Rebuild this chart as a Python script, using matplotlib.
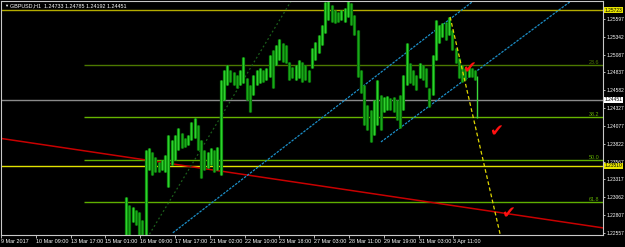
import matplotlib
matplotlib.use('Agg')
import matplotlib.pyplot as plt
import matplotlib.transforms as mtrans
from matplotlib import font_manager

# ---------------- data (GBPUSD H1) ----------------
symbol = 'GBPUSD,H1'
last_ohlc = [1.24733, 1.24785, 1.24192, 1.24451]   # open high low close
last_bar = 438

time_labels = ['9 Mar 2017', '10 Mar 09:00', '13 Mar 17:00', '15 Mar 01:00',
               '16 Mar 09:00', '17 Mar 17:00', '21 Mar 02:00', '22 Mar 10:00',
               '23 Mar 18:00', '27 Mar 03:00', '28 Mar 11:00', '29 Mar 19:00',
               '31 Mar 03:00', '3 Apr 11:00']
label_step = 32          # hourly bars between two time labels

price_ticks = [1.25597, 1.25342, 1.25087, 1.24837, 1.24582, 1.24327, 1.24077,
               1.23822, 1.23567, 1.23317, 1.23062, 1.22807, 1.22557]

# hourly candles grouped in blocks of 3 bars, first block starts at bar 114
blk_start = 114
blk_len = 3
blk_high = [1.2307, 1.2296, 1.2293, 1.2288, 1.2286, 1.2274, 1.2374, 1.2376,
            1.2371, 1.2363, 1.2357, 1.2359, 1.2367, 1.2395, 1.2388, 1.2395,
            1.2405, 1.2398, 1.2391, 1.2395, 1.2413, 1.2419, 1.2409, 1.2388,
            1.2374, 1.2371, 1.2376, 1.2374, 1.2378, 1.2473, 1.2487, 1.2494,
            1.2487, 1.2484, 1.2480, 1.2487, 1.2506, 1.2476, 1.2466, 1.2480,
            1.2487, 1.2490, 1.2487, 1.2490, 1.2509, 1.2516, 1.2523, 1.2531,
            1.2526, 1.2523, 1.2499, 1.2491, 1.2494, 1.2501, 1.2499, 1.2494,
            1.2487, 1.2519, 1.2527, 1.2537, 1.2551, 1.2584, 1.2594, 1.2580,
            1.2572, 1.2570, 1.2572, 1.2575, 1.2594, 1.2582, 1.2565, 1.2544,
            1.2487, 1.2466, 1.2438, 1.2430, 1.2445, 1.2473, 1.2452, 1.2449,
            1.2450, 1.2448, 1.2449, 1.2445, 1.2452, 1.2480, 1.2526, 1.2497,
            1.2487, 1.2480, 1.2497, 1.2494, 1.2490, 1.2462, 1.2509, 1.2558,
            1.2551, 1.2554, 1.2555, 1.2562, 1.2544, 1.2519, 1.2504, 1.2494,
            1.2490, 1.2491, 1.2490, 1.2487]
blk_low = [1.2246, 1.2246, 1.2271, 1.2267, 1.2246, 1.2246, 1.2246, 1.2345,
           1.2338, 1.2342, 1.2342, 1.2345, 1.2342, 1.2321, 1.2352, 1.2359,
           1.2374, 1.2376, 1.2378, 1.2381, 1.2388, 1.2391, 1.2374, 1.2334,
           1.2345, 1.2348, 1.2352, 1.2342, 1.2345, 1.2338, 1.2445, 1.2466,
           1.2470, 1.2466, 1.2462, 1.2466, 1.2469, 1.2445, 1.2428, 1.2452,
           1.2466, 1.2469, 1.2470, 1.2473, 1.2477, 1.2462, 1.2494, 1.2501,
           1.2499, 1.2497, 1.2473, 1.2476, 1.2473, 1.2476, 1.2470, 1.2473,
           1.2470, 1.2490, 1.2501, 1.2511, 1.2523, 1.2540, 1.2558, 1.2555,
           1.2554, 1.2555, 1.2558, 1.2555, 1.2562, 1.2551, 1.2537, 1.2477,
           1.2455, 1.2409, 1.2402, 1.2385, 1.2395, 1.2409, 1.2402, 1.2428,
           1.2430, 1.2430, 1.2428, 1.2416, 1.2405, 1.2430, 1.2466, 1.2469,
           1.2466, 1.2459, 1.2476, 1.2473, 1.2463, 1.2435, 1.2452, 1.2501,
           1.2526, 1.2534, 1.2530, 1.2537, 1.2516, 1.2497, 1.2476, 1.2470,
           1.2473, 1.2477, 1.2477, 1.2473]

fib_names = ['23.6', '38.2', '50.0', '61.8']
fib_prices = [1.24943, 1.24205, 1.23594, 1.22998]
fib_colors = ['#4c7800', '#66b400', '#5fae00', '#5fae00']
fib_from_bar = 76

hline_top = 1.25723
hline_low = 1.23510

# trend lines as (bars, prices)
red_bars, red_prices = [0, 553.6], [1.2390, 1.2263]
chan_a_bars, chan_a_prices = [158, 436], [1.2256, 1.2587]
chan_b_bars, chan_b_prices = [349.4, 525], [1.2385, 1.2586]
dot_bars, dot_prices = [136.5, 266.8], [1.2254, 1.2585]
proj_bars, proj_prices = [413, 459], [1.25625, 1.2254]

check_bars = [430.0, 455.0, 466.0]
check_prices = [1.2490, 1.2400, 1.2283]

# ---------------- fonts ----------------
names = {f.name for f in font_manager.fontManager.ttflist}
narrow = 'Liberation Sans Narrow' if 'Liberation Sans Narrow' in names else 'Liberation Sans'
fam = [narrow, 'DejaVu Sans']
fs = 3.9
fs_y = 3.5

# ---------------- figure ----------------
fig = plt.figure(figsize=(6.25, 2.47), dpi=100, facecolor='black')
ax = fig.add_axes([1 / 625, 12 / 247, 602 / 625, 234 / 247])
ax.set_facecolor('black')
ax.set_xlim(0, 553.6)
ax.set_ylim(1.22529, 1.25851)

# horizontal levels
ax.axhline(hline_top, color='#b4ac00', lw=1.0)
ax.axhline(hline_low, color='#e2e200', lw=1.0)
ax.axhline(last_ohlc[3], color='#8a8a8a', lw=1.0)
for name, p, c in zip(fib_names, fib_prices, fib_colors):
    ax.hlines(p, fib_from_bar, 553.6, color=c, lw=1.0)
    ax.text(550, p + 0.00004, name, ha='right', va='bottom', color=c,
            fontsize=fs, family=fam)

# trend lines
ax.plot(red_bars, red_prices, color='#c80000', lw=1.1)
ax.plot(chan_a_bars, chan_a_prices, color='#1c8fc8', lw=0.9, ls=(0, (2, 1)))
ax.plot(chan_b_bars, chan_b_prices, color='#1c8fc8', lw=0.9, ls=(0, (2, 1)))
ax.plot(dot_bars, dot_prices, color='#1b5e1b', lw=0.9, ls=(0, (1.5, 2)))

# candles
prev_mid = None
for k, (hi, lo) in enumerate(zip(blk_high, blk_low)):
    x = blk_start + blk_len * k + 1
    mid = hi + lo
    up = prev_mid is None or mid >= prev_mid
    prev_mid = mid
    ax.vlines(x, lo, hi, colors='#0f930f' if up else '#0b7a0b', lw=2.3)
    ax.vlines(x, lo, hi, colors='#2fd02f' if up else '#1aa81a', lw=0.8)
ax.vlines(last_bar, last_ohlc[2], last_ohlc[1], colors='#3ad83a', lw=1.0)

# projection and marks
ax.plot(proj_bars, proj_prices, color='#e0d800', lw=0.9, ls=(0, (3, 2)))
for b, p in zip(check_bars, check_prices):
    ax.text(b, p, '\u2714', color='#ff1010', fontsize=12, ha='center',
            va='center', family='DejaVu Sans')

# axes styling
for s in ax.spines.values():
    s.set_color('#c8c8c8')
    s.set_linewidth(0.8)
ax.yaxis.tick_right()
ax.set_yticks(price_ticks)
ax.set_yticklabels([f'{p:.5f}' for p in price_ticks], family=fam)
ax.tick_params(axis='y', colors='#d8d8d8', labelsize=fs_y, length=1.5,
               width=0.6, pad=0.8, labelcolor='white')
ax.set_xticks([i * label_step for i in range(len(time_labels))])
ax.set_xticklabels(time_labels, ha='left', family=fam)
ax.tick_params(axis='x', colors='#d8d8d8', labelsize=fs, length=2,
               width=0.6, pad=1.0, labelcolor='white')

# highlighted price labels on the scale
tr = mtrans.blended_transform_factory(ax.transAxes, ax.transData)
for p, bg in [(hline_top, '#e8e400'), (last_ohlc[3], 'white'), (hline_low, '#e8e400')]:
    ax.text(1.002, p, f'{p:.5f}', transform=tr, ha='left', va='center',
            fontsize=fs_y, family=fam, color='black',
            bbox=dict(boxstyle='square,pad=0.12', fc=bg, ec='none'))

# header
fig.text(4 / 625, 1 - 6 / 247, '\u25bc', color='white', fontsize=3.0,
         ha='left', va='center', family=fam)
fig.text(10 / 625, 1 - 6 / 247,
         f'{symbol}  ' + ' '.join(f'{v:.5f}' for v in last_ohlc),
         color='white', fontsize=fs, ha='left', va='center', family=fam)

fig.savefig('out.png', dpi=100, facecolor='black')
